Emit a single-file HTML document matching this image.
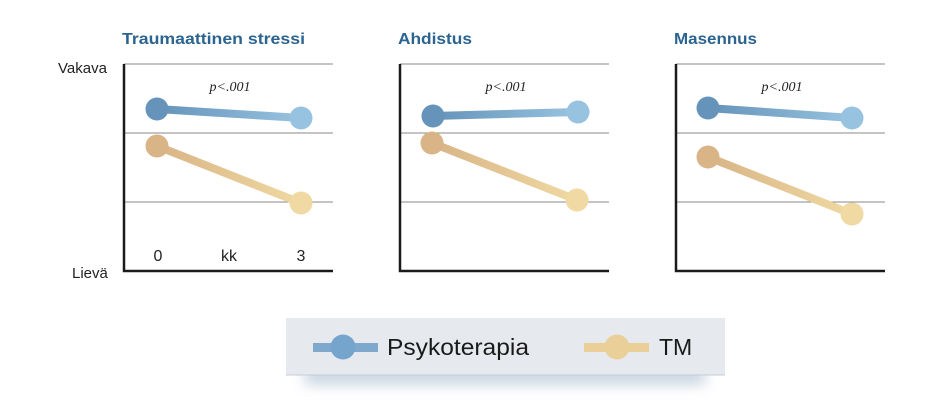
<!DOCTYPE html>
<html><head><meta charset="utf-8"><style>
html,body{margin:0;padding:0;background:#fff;}
svg{display:block;}
</style></head><body>
<svg width="935" height="412" viewBox="0 0 935 412" xmlns="http://www.w3.org/2000/svg">
<defs>
<linearGradient id="gb" x1="0" x2="1" y1="0" y2="0"><stop offset="0" stop-color="#6593b9"/><stop offset="1" stop-color="#98c3e0"/></linearGradient>
<linearGradient id="gt" x1="0" x2="1" y1="0" y2="0"><stop offset="0" stop-color="#d8b486"/><stop offset="1" stop-color="#f0d9a2"/></linearGradient>
<filter id="sh" x="-20%" y="-80%" width="140%" height="300%"><feGaussianBlur stdDeviation="7"/></filter>
</defs>
<g font-family="Liberation Sans, sans-serif">
<text x="122" y="44" font-size="16" font-weight="bold" fill="#2b6490" textLength="183" lengthAdjust="spacingAndGlyphs">Traumaattinen stressi</text>
<text x="398" y="44" font-size="16" font-weight="bold" fill="#2b6490" textLength="74" lengthAdjust="spacingAndGlyphs">Ahdistus</text>
<text x="674" y="44" font-size="16" font-weight="bold" fill="#2b6490" textLength="83" lengthAdjust="spacingAndGlyphs">Masennus</text>
<text x="58" y="73" font-size="15" fill="#222">Vakava</text>
<text x="72" y="278" font-size="15" fill="#222">Lievä</text>
<text x="158" y="261" font-size="16" fill="#222" text-anchor="middle">0</text>
<text x="229" y="261" font-size="16" fill="#222" text-anchor="middle">kk</text>
<text x="301" y="261" font-size="16" fill="#222" text-anchor="middle">3</text>
</g>
<g stroke="#888" stroke-width="1">
<line x1="124" y1="64" x2="333" y2="64"/><line x1="124" y1="133" x2="333" y2="133"/><line x1="124" y1="202" x2="333" y2="202"/>
<line x1="400" y1="64" x2="609" y2="64"/><line x1="400" y1="133" x2="609" y2="133"/><line x1="400" y1="202" x2="609" y2="202"/>
<line x1="676" y1="64" x2="885" y2="64"/><line x1="676" y1="133" x2="885" y2="133"/><line x1="676" y1="202" x2="885" y2="202"/>
</g>
<g stroke="#1a1a1a" stroke-width="2.5" fill="none">
<polyline points="124,64 124,271 333,271"/>
<polyline points="400,64 400,271 609,271"/>
<polyline points="676,64 676,271 885,271"/>
</g>
<g font-family="Liberation Serif, serif" font-style="italic" font-size="14" fill="#222" text-anchor="middle">
<text x="230" y="91">p&lt;.001</text><text x="506" y="91">p&lt;.001</text><text x="782" y="91">p&lt;.001</text>
</g>
<g stroke-width="8">
<line x1="157" y1="109" x2="301" y2="118" stroke="url(#gb)"/>
<line x1="157" y1="146" x2="301" y2="203" stroke="url(#gt)"/>
<line x1="433" y1="116" x2="578" y2="112" stroke="url(#gb)"/>
<line x1="432" y1="143" x2="577" y2="200" stroke="url(#gt)"/>
<line x1="708" y1="108" x2="852" y2="118" stroke="url(#gb)"/>
<line x1="708" y1="157" x2="852" y2="214" stroke="url(#gt)"/>
</g>
<g>
<circle cx="157" cy="109" r="11.5" fill="#6593b9"/><circle cx="301" cy="118" r="11.5" fill="#98c3e0"/>
<circle cx="157" cy="146" r="11.5" fill="#d8b486"/><circle cx="301" cy="203" r="11.5" fill="#f0d9a2"/>
<circle cx="433" cy="116" r="11.5" fill="#6593b9"/><circle cx="578" cy="112" r="11.5" fill="#98c3e0"/>
<circle cx="432" cy="143" r="11.5" fill="#d8b486"/><circle cx="577" cy="200" r="11.5" fill="#f0d9a2"/>
<circle cx="708" cy="108" r="11.5" fill="#6593b9"/><circle cx="852" cy="118" r="11.5" fill="#98c3e0"/>
<circle cx="708" cy="157" r="11.5" fill="#d8b486"/><circle cx="852" cy="214" r="11.5" fill="#f0d9a2"/>
</g>
<rect x="305" y="368" width="400" height="16" fill="#b4c4d6" filter="url(#sh)" opacity="0.8"/>
<rect x="286" y="318" width="439" height="57" fill="#e6eaee"/>
<line x1="286" y1="375" x2="725" y2="375" stroke="#c5ccd4"/>
<rect x="313" y="343" width="65" height="9" fill="#7fa9cc"/>
<circle cx="343" cy="347" r="12.5" fill="#75a4cc"/>
<rect x="584" y="343" width="65" height="9" fill="#ebcf98"/>
<circle cx="617" cy="347" r="12.5" fill="#ebcf98"/>
<g font-family="Liberation Sans, sans-serif" font-size="23" fill="#1a1a1a">
<text x="387" y="355" textLength="142" lengthAdjust="spacingAndGlyphs">Psykoterapia</text>
<text x="659" y="355">TM</text>
</g>
</svg>
</body></html>
